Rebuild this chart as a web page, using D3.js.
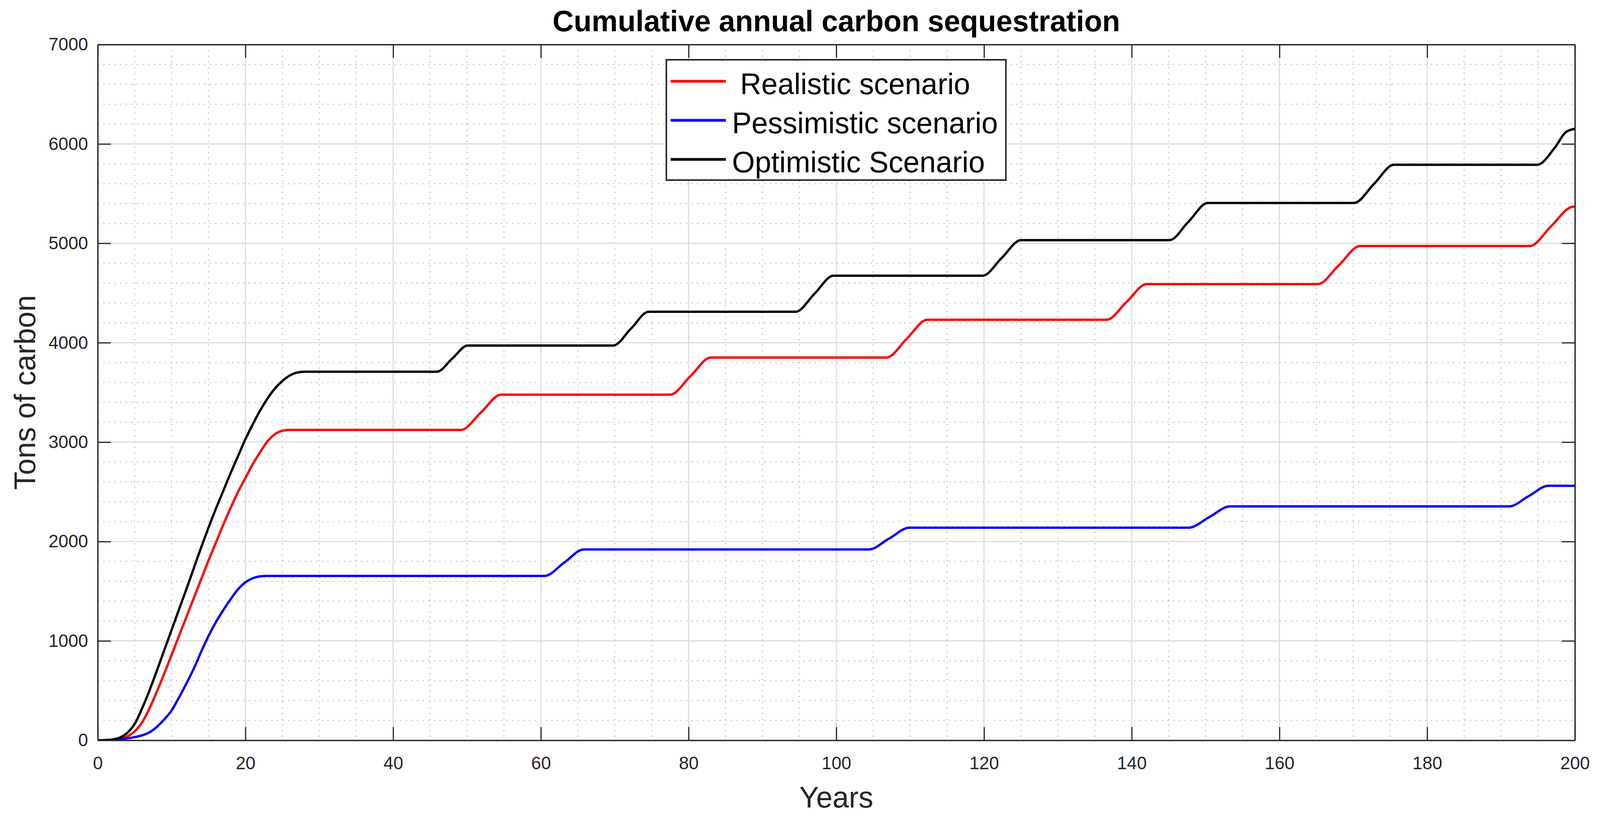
<!DOCTYPE html>
<html lang="en">
<head>
<meta charset="utf-8">
<title>Cumulative annual carbon sequestration</title>
<script src="https://d3js.org/d3.v7.min.js"></script>
<style>
  html, body { margin: 0; padding: 0; width: 100%; height: 100%; background: #ffffff; overflow: hidden; }
  #chart { width: 100%; height: 100%; }
  svg { display: block; }
  text { font-family: "Liberation Sans", Arial, Helvetica, sans-serif; }
  .legend text { white-space: pre; }
</style>
</head>
<body>
<div id="chart"></div>

<script>
// values: [year, tons of carbon]
const realistic = [[0,0],[1,1],[2,5],[3,15],[4,40],[5,90],[6,180],[7,320],[8,490],[9,670],[10,860],
  [11,1050],[12,1240],[13,1430],[14,1620],[15,1810],[16,1990],[17,2170],[18,2340],[19,2500],[20,2640],
  [21,2780],[22,2900],[23,3010],[24,3080],[25,3115],[26,3123],
  [49.2,3123],[51.9,3300],[54.6,3477],
  [77.5,3477],[80.25,3664],[83.0,3851],
  [106.8,3851],[109.55,4041],[112.3,4231],
  [136.6,4231],[139.3,4410],[142.0,4590],
  [165.2,4590],[168.05,4780],[170.9,4973],
  [193.9,4973],[196.75,5170],[199.6,5367],[200,5370]];

const pessimistic = [[0,0],[1,1],[2,4],[3,10],[4,20],[5,32],[6,50],[7,80],[8,135],[9,210],[10,300],
  [11,430],[12,570],[13,720],[14,890],[15,1050],[16,1190],[17,1310],[18,1420],[19,1520],[20,1590],
  [21,1630],[22,1650],[23,1654],
  [60.5,1654],[63.15,1787],[65.8,1920],
  [104.4,1920],[107.15,2030],[109.9,2139],
  [147.7,2139],[150.5,2246],[153.3,2353],
  [191.1,2353],[193.75,2457],[196.4,2561],[200,2561]];

const optimistic = [[0,0],[1,2],[2,8],[3,28],[4,75],[5,165],[6,320],[7,500],[8,700],[9,905],[10,1110],
  [11,1315],[12,1520],[13,1730],[14,1940],[15,2140],[16,2330],[17,2510],[18,2690],[19,2860],[20,3030],
  [21,3180],[22,3320],[23,3440],[24,3540],[25,3615],[26,3670],[27,3700],[28,3708],
  [45.9,3708],[48.0,3840],[50.1,3972],
  [69.8,3972],[72.2,4142],[74.6,4312],
  [94.5,4312],[97.05,4493],[99.6,4674],
  [119.8,4674],[122.4,4853],[125.0,5032],
  [145.1,5032],[147.7,5219],[150.3,5406],
  [170.1,5406],[172.8,5598],[175.5,5790],
  [194.9,5790],[197.3,5965],[198.8,6120],[200,6152]];

const seriesNames = [" Realistic scenario", "Pessimistic scenario", "Optimistic Scenario"];
const seriesColors = ["#ff0000", "#0000ff", "#000000"];
const seriesData = [realistic, pessimistic, optimistic];

const xTicks = [0, 20, 40, 60, 80, 100, 120, 140, 160, 180, 200];
const yTicks = [0, 1000, 2000, 3000, 4000, 5000, 6000, 7000];

const width = 4142;
const height = 2099;
const plotLeft = 253, plotRight = 4077, plotTop = 114, plotBottom = 1895;

// scale the drawing to whatever the viewport turns out to be
const svg = d3.select("#chart")
  .append("svg")
  .attr("width", "100%")
  .attr("height", "100%")
  .attr("viewBox", [0, 0, width, height])
  .attr("preserveAspectRatio", "none");

svg.append("rect").attr("width", width).attr("height", height).attr("fill", "#ffffff");

const x = d3.scaleLinear().domain([0, 200]).range([plotLeft, plotRight]);
const y = d3.scaleLinear().domain([0, 7000]).range([plotBottom, plotTop]);

// minor grid (dotted)
const xMinor = d3.range(0, 201, 5).filter(v => v % 20 !== 0);
const yMinor = d3.range(0, 7001, 200).filter(v => v % 1000 !== 0);

const grid = svg.append("g").attr("class", "grid");
grid.append("g").selectAll("line").data(xMinor).join("line")
  .attr("x1", d => x(d)).attr("x2", d => x(d))
  .attr("y1", plotTop).attr("y2", plotBottom)
  .attr("stroke", "#c2c2c2").attr("stroke-width", 3)
  .attr("stroke-dasharray", "3 11.5");
grid.append("g").selectAll("line").data(yMinor).join("line")
  .attr("x1", plotLeft).attr("x2", plotRight)
  .attr("y1", d => y(d)).attr("y2", d => y(d))
  .attr("stroke", "#c2c2c2").attr("stroke-width", 3)
  .attr("stroke-dasharray", "3 11.5");

// major grid (solid, light)
grid.append("g").selectAll("line").data(xTicks.slice(1, -1)).join("line")
  .attr("x1", d => x(d)).attr("x2", d => x(d))
  .attr("y1", plotTop).attr("y2", plotBottom)
  .attr("stroke", "#dcdcdc").attr("stroke-width", 3);
grid.append("g").selectAll("line").data(yTicks.slice(1, -1)).join("line")
  .attr("x1", plotLeft).attr("x2", plotRight)
  .attr("y1", d => y(d)).attr("y2", d => y(d))
  .attr("stroke", "#dcdcdc").attr("stroke-width", 3);

// curves
svg.append("clipPath").attr("id", "plotclip")
  .append("rect").attr("x", plotLeft).attr("y", plotTop)
  .attr("width", plotRight - plotLeft).attr("height", plotBottom - plotTop);

const line = d3.line()
  .x(d => x(d[0]))
  .y(d => y(d[1]))
  .curve(d3.curveMonotoneX);

svg.append("g").attr("clip-path", "url(#plotclip)")
  .selectAll("path")
  .data(seriesData)
  .join("path")
  .attr("d", d => line(d))
  .attr("fill", "none")
  .attr("stroke", (d, i) => seriesColors[i])
  .attr("stroke-width", 6)
  .attr("stroke-linejoin", "round");

// axes, ticks inward on all four sides
function styleAxis(g) {
  g.select(".domain").attr("stroke", "#262626").attr("stroke-width", 3.5);
  g.selectAll(".tick line").attr("stroke", "#262626").attr("stroke-width", 3);
  g.selectAll(".tick text")
    .attr("fill", "#262626")
    .attr("font-size", 46)
    .attr("font-family", "\"Liberation Sans\", Arial, sans-serif");
}

const fmt = d3.format("d");

svg.append("g")
  .attr("transform", `translate(0,${plotBottom})`)
  .call(d3.axisBottom(x).tickValues(xTicks).tickFormat(fmt).tickSizeInner(-34).tickSizeOuter(0).tickPadding(41))
  .call(styleAxis);

svg.append("g")
  .attr("transform", `translate(0,${plotTop})`)
  .call(d3.axisTop(x).tickValues(xTicks).tickSizeInner(-34).tickSizeOuter(0).tickFormat(""))
  .call(styleAxis);

svg.append("g")
  .attr("transform", `translate(${plotLeft},0)`)
  .call(d3.axisLeft(y).tickValues(yTicks).tickFormat(fmt).tickSizeInner(-34).tickSizeOuter(0).tickPadding(25))
  .call(styleAxis);

svg.append("g")
  .attr("transform", `translate(${plotRight},0)`)
  .call(d3.axisRight(y).tickValues(yTicks).tickSizeInner(-34).tickSizeOuter(0).tickFormat(""))
  .call(styleAxis);

// titles
svg.append("text")
  .attr("x", (plotLeft + plotRight) / 2)
  .attr("y", 80)
  .attr("text-anchor", "middle")
  .attr("font-size", 76)
  .attr("font-weight", "bold")
  .attr("fill", "#000000")
  .text("Cumulative annual carbon sequestration");

svg.append("text")
  .attr("x", (plotLeft + plotRight) / 2)
  .attr("y", 2067)
  .attr("text-anchor", "middle")
  .attr("font-size", 76)
  .attr("fill", "#262626")
  .text("Years");

svg.append("text")
  .attr("transform", `translate(91,${(plotTop + plotBottom) / 2}) rotate(-90)`)
  .attr("text-anchor", "middle")
  .attr("font-size", 76)
  .attr("fill", "#262626")
  .text("Tons of carbon");

// legend
const legend = svg.append("g").attr("class", "legend");
legend.append("rect")
  .attr("x", 1725).attr("y", 153)
  .attr("width", 879).attr("height", 308)
  .attr("fill", "#ffffff")
  .attr("stroke", "#262626")
  .attr("stroke-width", 4);

const rows = legend.selectAll("g.row")
  .data(seriesNames)
  .join("g")
  .attr("class", "row")
  .attr("transform", (d, i) => `translate(0,${208 + i * 100})`);

rows.append("line")
  .attr("x1", 1736).attr("x2", 1879)
  .attr("y1", 0).attr("y2", 0)
  .attr("stroke", (d, i) => seriesColors[i])
  .attr("stroke-width", 7);

rows.append("text")
  .attr("x", 1895)
  .attr("y", 33)
  .attr("font-size", 76)
  .attr("fill", "#000000")
  .text(d => d);
</script>
</body>
</html>
